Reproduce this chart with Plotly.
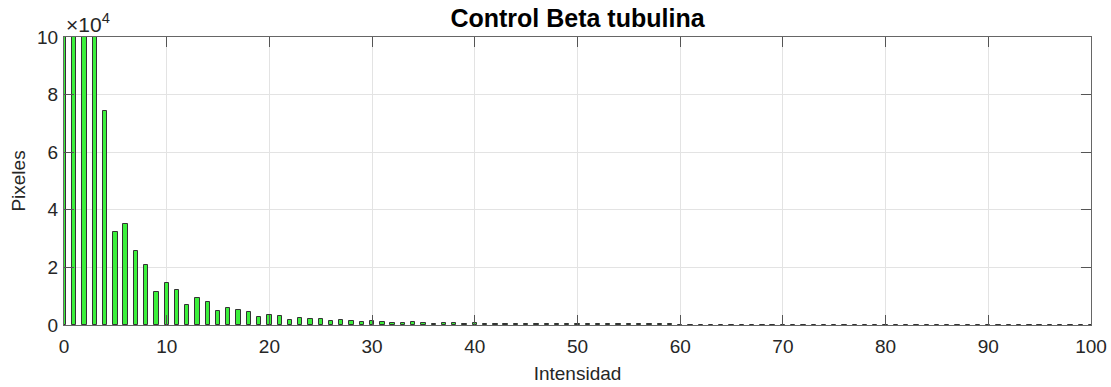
import plotly.graph_objects as go

# Intensity bins (0..100) and pixel counts
intensidad = list(range(0, 101))
pixeles = [
    250000, 200000, 160000, 120000, 74300, 32300, 35000, 25700, 20700, 11500,
    14600, 12200, 7000, 9300, 8000, 4900, 5900, 5200, 4600, 2700,
    3600, 3000, 1900, 2600, 2200, 2100, 1300, 1700, 1500, 900,
    1300, 1000, 700, 700, 900, 700, 500, 700, 600, 400,
    600, 500, 500, 400, 400, 400, 300, 350, 300, 250,
    300, 220, 200, 230, 200, 210, 190, 200, 180, 190,
    170, 160, 150, 160, 140, 150, 130, 140, 120, 130,
    120, 110, 100, 110, 100, 90, 100, 90, 80, 90,
    80, 80, 70, 80, 70, 60, 70, 60, 60, 50,
    50, 50, 50, 40, 50, 40, 40, 40, 30, 30,
    30,
]

x_ticks = [0, 10, 20, 30, 40, 50, 60, 70, 80, 90, 100]
y_ticks = [0, 20000, 40000, 60000, 80000, 100000]
y_tick_labels = ["0", "2", "4", "6", "8", "10"]

font_family = "Liberation Sans, Arial, Helvetica, sans-serif"

fig = go.Figure()
fig.add_trace(go.Bar(
    x=intensidad,
    y=pixeles,
    width=0.42,
    marker=dict(color="#3cf03c", line=dict(color="#333333", width=1)),
    showlegend=False,
))

fig.update_layout(
    width=1111,
    height=387,
    margin=dict(l=64, r=20, t=37, b=62),
    paper_bgcolor="white",
    plot_bgcolor="white",
    font=dict(family=font_family, size=18, color="#262626"),
    title=dict(
        text="<b>Control Beta tubulina</b>",
        x=(64 + 1091) / 2 / 1111,
        xanchor="center",
        y=0.952,
        yanchor="middle",
        font=dict(family=font_family, size=25, color="black"),
    ),
    bargap=0,
)

fig.update_xaxes(
    range=[0, 100],
    tickvals=x_ticks,
    ticktext=[str(v) for v in x_ticks],
    ticks="inside",
    ticklen=10,
    tickcolor="#555555",
    ticklabelstandoff=4,
    showline=True,
    linecolor="#666666",
    linewidth=1,
    mirror="ticks",
    showgrid=True,
    gridcolor="#e3e3e3",
    gridwidth=1,
    zeroline=False,
    automargin=False,
    title=dict(text="Intensidad", font=dict(size=19, color="#262626"), standoff=10),
    tickfont=dict(size=19, color="#262626"),
)

fig.update_yaxes(
    range=[0, 100000],
    tickvals=y_ticks,
    ticktext=y_tick_labels,
    ticks="inside",
    ticklen=10,
    tickcolor="#555555",
    ticklabelstandoff=1,
    showline=True,
    linecolor="#666666",
    linewidth=1,
    mirror="ticks",
    showgrid=True,
    gridcolor="#e3e3e3",
    gridwidth=1,
    zeroline=False,
    automargin=False,
    title=dict(text="Pixeles", font=dict(size=19, color="#262626"), standoff=6),
    tickfont=dict(size=19, color="#262626"),
)

fig.add_annotation(
    text="×10<sup>4</sup>",
    xref="paper", yref="paper",
    x=0, y=1.0,
    xanchor="left", yanchor="bottom",
    showarrow=False,
    yshift=-1,
    font=dict(family=font_family, size=21, color="#262626"),
)

fig.write_html("out.html")
